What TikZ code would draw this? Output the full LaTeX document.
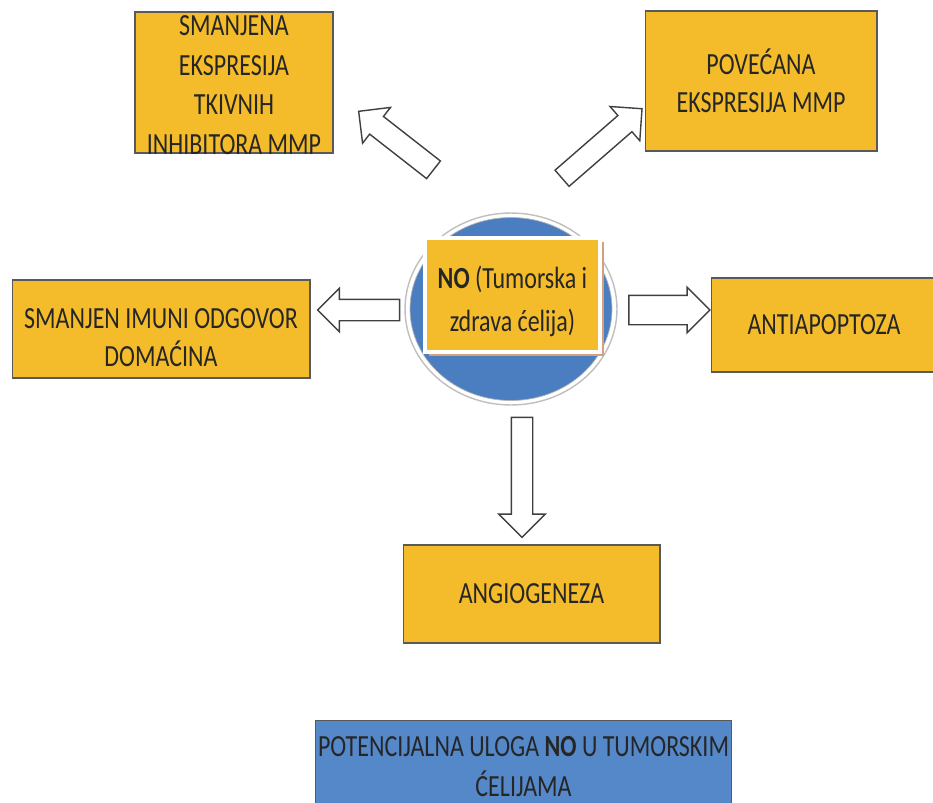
\documentclass[tikz,border=0pt]{standalone}
\usepackage{fontspec}
\setmainfont[FakeStretch=0.78]{Carlito}
\usetikzlibrary{shapes.geometric,shapes.arrows}
\definecolor{boxyellow}{RGB}{244,188,42}
\definecolor{titleblue}{RGB}{84,136,200}
\definecolor{cellblue}{RGB}{74,126,192}
\definecolor{shadowtan}{RGB}{214,160,122}

\begin{document}
\begin{tikzpicture}[x=0.02cm,y=-0.02cm,
  box/.style={draw=black!65, line width=0.6pt, fill=boxyellow, align=center, inner sep=0pt,
    text=black!85, font=\fontsize{17.5}{21.5}\selectfont},
  lbl/.style={align=center, text=black!85, font=\fontsize{17.5}{21.5}\selectfont},
  fat/.style={single arrow, draw=black!75, fill=white, line width=0.8pt, inner xsep=0pt,
    single arrow head indent=0pt, anchor=center}]

\useasboundingbox (0,0) rectangle (933,802);

% the cell in the middle
\node[ellipse, draw=black!25, line width=0.8pt, fill=white, minimum width=4.24cm, minimum height=3.84cm] (ring) at (511,309) {};
\node[ellipse, draw=black!30, line width=0.4pt, fill=cellblue, minimum width=4.04cm, minimum height=3.66cm] (cell) at (511,309) {};
\fill[shadowtan] (429,242) rectangle (604,356);
\node[box, draw=white, line width=2pt, minimum width=3.5cm, minimum height=2.28cm,
  label={[lbl, yshift=-0.12cm]center:\textbf{NO} (Tumorska i\\[3pt] zdrava ćelija)}] (no) at (512.5,295) {};

% effects
\node[box, minimum width=3.96cm, minimum height=2.82cm,
  label={[lbl, yshift=-0.05cm]center:SMANJENA\\[1pt] EKSPRESIJA\\[1pt] TKIVNIH\\[1pt] INHIBITORA MMP}] (inhib) at (234,82.5) {};
\node[box, minimum width=4.64cm, minimum height=2.8cm] (mmp) at (761,81)
  {POVEĆANA\\[0pt] EKSPRESIJA MMP};
\node[box, minimum width=5.96cm, minimum height=1.96cm,
  label={[lbl, yshift=-0.17cm]center:SMANJEN IMUNI ODGOVOR\\[0pt] DOMAĆINA}] (imuni) at (161,329) {};
\node[box, minimum width=4.5cm, minimum height=1.88cm] (apop) at (824,325) {ANTIAPOPTOZA};
\node[box, minimum width=5.14cm, minimum height=1.96cm] (angio) at (531.5,594) {ANGIOGENEZA};

% block arrows
\node[fat, rotate=142, minimum height=1.9cm, inner ysep=0.21cm, single arrow head extend=0.23cm] (toinhib) at (400.5,144) {};
\node[fat, rotate=41, minimum height=2.12cm, inner ysep=0.2cm, single arrow head extend=0.24cm] (tommp) at (598,147) {};
\node[fat, rotate=180, minimum height=1.64cm, inner ysep=0.2cm, single arrow head extend=0.22cm] (toimuni) at (364,310) {};
\node[fat, minimum height=1.62cm, inner ysep=0.28cm, single arrow head extend=0.16cm] (toapop) at (662,310) {};
\node[fat, rotate=-90, minimum height=2.4cm, inner ysep=0.2cm, single arrow head extend=0.25cm] (toangio) at (522,472) {};

% caption box
\node[box, fill=titleblue, minimum width=8.34cm, minimum height=1.84cm, anchor=north] (title) at (523.5,720)
  {POTENCIJALNA ULOGA \textbf{NO} U TUMORSKIM\\[1pt] ĆELIJAMA};

\end{tikzpicture}
\end{document}
